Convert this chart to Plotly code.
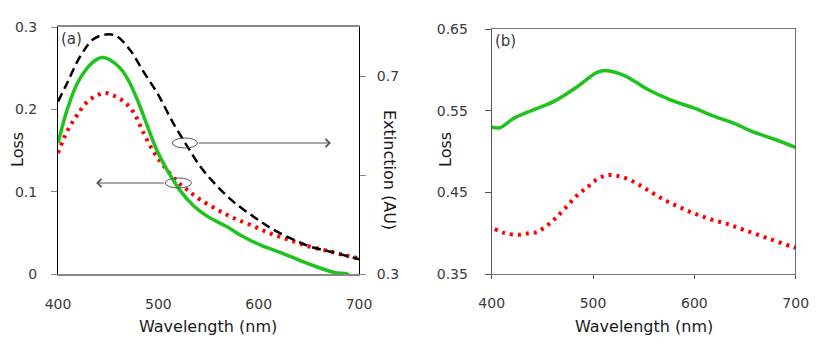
import plotly.graph_objects as go

# ---- panel (a) data ----
wl_green_a = [400, 409, 419, 429, 439, 445, 452, 462, 469, 479, 489, 499, 509, 522,
              535, 549, 569, 582, 602, 622, 642, 662, 675, 688, 690]
loss_green_a = [0.159, 0.199, 0.231, 0.250, 0.261, 0.263, 0.260, 0.250, 0.238, 0.212,
                0.180, 0.149, 0.126, 0.101, 0.083, 0.070, 0.057, 0.047, 0.035, 0.026,
                0.016, 0.007, 0.002, 0.0, -0.001]

wl_red_a = [400, 409, 419, 429, 439, 447, 455, 465, 475, 485, 495, 505, 519, 529,
            542, 559, 575, 595, 612, 629, 649, 669, 685, 700]
loss_red_a = [0.147, 0.173, 0.193, 0.209, 0.217, 0.220, 0.217, 0.210, 0.197, 0.172,
              0.149, 0.132, 0.112, 0.102, 0.090, 0.078, 0.068, 0.058, 0.049, 0.042,
              0.034, 0.028, 0.023, 0.019]

wl_ext_a = [400, 409, 422, 435, 448, 458, 472, 485, 499, 515, 529, 542, 559, 575,
            595, 612, 632, 652, 672, 700]
ext_a = [0.649, 0.686, 0.740, 0.775, 0.785, 0.782, 0.753, 0.710, 0.666, 0.605,
         0.558, 0.517, 0.477, 0.446, 0.416, 0.393, 0.372, 0.355, 0.345, 0.330]

# ---- panel (b) data ----
wl_green_b = [400, 408, 421, 441, 461, 484, 504, 514, 531, 554, 577, 600, 620, 640,
              656, 679, 700]
loss_green_b = [0.530, 0.529, 0.540, 0.551, 0.561, 0.579, 0.597, 0.599, 0.593, 0.576,
                0.563, 0.553, 0.543, 0.534, 0.525, 0.515, 0.505]

wl_red_b = [403, 413, 428, 437, 444, 451, 461, 472, 484, 494, 504, 514, 525, 540,
            555, 570, 585, 600, 616, 633, 649, 672, 695, 700]
loss_red_b = [0.405, 0.400, 0.398, 0.400, 0.401, 0.406, 0.416, 0.430, 0.446, 0.456,
              0.466, 0.471, 0.470, 0.463, 0.452, 0.441, 0.432, 0.424, 0.417, 0.411,
              0.404, 0.394, 0.384, 0.382]

x_ticks = [400, 500, 600, 700]

GREEN = "#1ec31e"
RED = "#ff0000"
FONT = "DejaVu Sans"
TXT = "#3a3a3a"
DOTS = "3px,5px"

# the page puts the figure 8px in from the window's top-left corner
OFF = 8
W, H = 817 - OFF, 352 - OFF


def px(x):
    return (x - OFF) / W


def py(y):
    return 1 - (y - OFF) / H


fig = go.Figure()

fig.add_trace(go.Scatter(x=wl_ext_a, y=ext_a, mode="lines", xaxis="x", yaxis="y2",
                         line=dict(color="black", width=2.5, dash="9px,5px"),
                         line_shape="spline"))
fig.add_trace(go.Scatter(x=wl_red_a, y=loss_red_a, mode="lines", xaxis="x", yaxis="y",
                         line=dict(color=RED, width=4, dash=DOTS),
                         line_shape="spline"))
fig.add_trace(go.Scatter(x=wl_green_a, y=loss_green_a, mode="lines", xaxis="x", yaxis="y",
                         line=dict(color=GREEN, width=3.5), line_shape="spline"))

fig.add_trace(go.Scatter(x=wl_green_b, y=loss_green_b, mode="lines", xaxis="x2", yaxis="y3",
                         line=dict(color=GREEN, width=3.5), line_shape="spline"))
fig.add_trace(go.Scatter(x=wl_red_b, y=loss_red_b, mode="lines", xaxis="x2", yaxis="y3",
                         line=dict(color=RED, width=4, dash=DOTS),
                         line_shape="spline"))

tick_font = dict(family=FONT, size=14, color=TXT)
title_font = dict(family=FONT, size=16, color="#1a1a1a")

ya = [py(274), py(27)]
yb = [py(274), py(29)]

fig.update_layout(
    width=W, height=H,
    margin=dict(l=0, r=0, t=0, b=0),
    paper_bgcolor="white", plot_bgcolor="white",
    showlegend=False,
    xaxis=dict(domain=[px(58), px(359)], range=[400, 700], tickvals=x_ticks,
               showgrid=False, zeroline=False, showline=True, linecolor="#888888",
               linewidth=2, mirror=True, ticks="", tickfont=tick_font,
               ticklabelstandoff=16, automargin=False, anchor="y"),
    yaxis=dict(domain=ya, range=[0, 0.3], tickvals=[0, 0.1, 0.2, 0.3],
               ticktext=["0", "0.1", "0.2", "0.3"], showgrid=False, zeroline=False,
               showline=True, linecolor="black", linewidth=1, ticks="outside",
               ticklen=6, tickcolor="#888888", tickfont=tick_font,
               ticklabelstandoff=11, automargin=False, anchor="x"),
    yaxis2=dict(domain=ya, range=[0.3, 0.8], tickvals=[0.3, 0.5, 0.7],
                ticktext=["0.3", "", "0.7"], overlaying="y", side="right",
                showgrid=False, zeroline=False, showline=True, linecolor="black",
                linewidth=1, ticks="outside", ticklen=6, tickcolor="#888888",
                tickfont=tick_font, ticklabelstandoff=8, automargin=False,
                anchor="x"),
    xaxis2=dict(domain=[px(491.7), px(795.7)], range=[400, 700], tickvals=x_ticks,
                showgrid=False, zeroline=False, showline=True, linecolor="#777777",
                linewidth=1, mirror=True, ticks="outside", ticklen=4,
                tickcolor="#555555", tickfont=tick_font, ticklabelstandoff=12,
                automargin=False, anchor="y3"),
    yaxis3=dict(domain=yb, range=[0.35, 0.65], tickvals=[0.35, 0.45, 0.55, 0.65],
                ticktext=["0.35", "0.45", "0.55", "0.65"], showgrid=False,
                zeroline=False, showline=True, linecolor="#555555", linewidth=1,
                ticks="outside", ticklen=6, tickcolor="#555555", tickfont=tick_font,
                ticklabelstandoff=14, automargin=False, anchor="x2"),
)

# right border of panel (b)
fig.add_shape(type="line", xref="x2", yref="paper", x0=700, x1=700, y0=yb[0], y1=yb[1],
              line=dict(color="black", width=1))


# axis titles
def title(text, x, y, angle=0):
    fig.add_annotation(text=text, xref="paper", yref="paper", x=px(x), y=py(y),
                       xanchor="center", yanchor="middle", showarrow=False,
                       textangle=angle, font=title_font)


title("Wavelength (nm)", 208, 326)
title("Wavelength (nm)", 644, 326)
title("Loss", 17, 150, -90)
title("Loss", 445, 150, -90)
title("Extinction (AU)", 389, 170, 90)

# panel labels
fig.add_annotation(text="(a)", xref="x", yref="paper", x=401, y=ya[1] - 0.003,
                   xanchor="left", yanchor="top", showarrow=False,
                   font=dict(family=FONT, size=15, color=TXT))
fig.add_annotation(text="(b)", xref="x2", yref="paper", x=401, y=yb[1] - 0.003,
                   xanchor="left", yanchor="top", showarrow=False,
                   font=dict(family=FONT, size=15, color=TXT))

# ellipses marking the curves and arrows pointing to the relevant axis
fig.add_shape(type="circle", xref="x", yref="y", x0=514, x1=539, y0=0.153, y1=0.1652,
              line=dict(color="#555555", width=1))
fig.add_shape(type="circle", xref="x", yref="y", x0=507, x1=533, y0=0.1045, y1=0.1166,
              line=dict(color="#555555", width=1))
fig.add_annotation(xref="x", yref="y", axref="x", ayref="y", x=672, y=0.1591,
                   ax=539, ay=0.1591, text="", showarrow=True, arrowhead=4,
                   arrowsize=1.6, arrowwidth=1, arrowcolor="#555555")
fig.add_annotation(xref="x", yref="y", axref="x", ayref="y", x=438, y=0.1105,
                   ax=507, ay=0.1105, text="", showarrow=True, arrowhead=4,
                   arrowsize=1.6, arrowwidth=1, arrowcolor="#555555")

fig.write_html("out.html")
